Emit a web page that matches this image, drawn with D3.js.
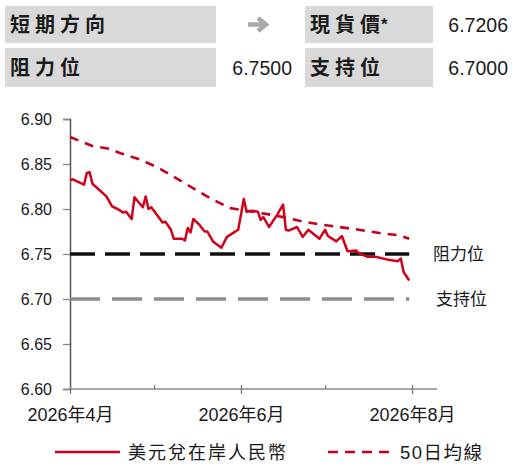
<!DOCTYPE html>
<html>
<head>
<meta charset="utf-8">
<script src="https://cdn.jsdelivr.net/npm/d3@7"></script>
<style>
  body { margin: 0; background: #fff; }
  svg { display: block; }
  text { font-family: "Liberation Sans", Arial, "Noto Sans CJK TC", sans-serif; fill: #1a1a1a; }
  .cjk { font-family: "Noto Sans CJK TC", sans-serif; }
</style>
</head>
<body>
<svg id="chart" width="516" height="472"></svg>
<script>

const width = 516;
const height = 472;

// header table
const headerLabels = ["短期方向", "現貨價", "阻力位", "支持位"];
const headerValues = ["6.7206", "6.7500", "6.7000"];

// USD/CNY daily
const spotDates = [
  "2026-04-01","2026-04-02","2026-04-06","2026-04-07","2026-04-08","2026-04-09",
  "2026-04-14","2026-04-16","2026-04-18","2026-04-20","2026-04-21","2026-04-23",
  "2026-04-24","2026-04-27","2026-04-28","2026-04-29","2026-04-30","2026-05-04",
  "2026-05-05","2026-05-07","2026-05-08","2026-05-11","2026-05-12","2026-05-13",
  "2026-05-14","2026-05-15","2026-05-17","2026-05-19","2026-05-20","2026-05-22",
  "2026-05-25","2026-05-27","2026-05-31","2026-06-02","2026-06-03","2026-06-05",
  "2026-06-07","2026-06-08","2026-06-09","2026-06-11","2026-06-14","2026-06-16",
  "2026-06-17","2026-06-18","2026-06-21","2026-06-23","2026-06-25","2026-06-29",
  "2026-07-01","2026-07-02","2026-07-05","2026-07-07","2026-07-09","2026-07-12",
  "2026-07-13","2026-07-16","2026-07-19","2026-07-23","2026-07-27","2026-07-28",
  "2026-07-29","2026-07-31"
];
const spotValues = [
  6.832, 6.833, 6.827, 6.840, 6.841, 6.828,
  6.814, 6.803, 6.800, 6.796, 6.797, 6.789,
  6.813, 6.802, 6.814, 6.800, 6.802, 6.785,
  6.786, 6.777, 6.767, 6.767, 6.765, 6.779,
  6.774, 6.789, 6.783, 6.775, 6.775, 6.764,
  6.757, 6.769, 6.777, 6.811, 6.797, 6.798,
  6.797, 6.788, 6.791, 6.780, 6.794, 6.805,
  6.777, 6.776, 6.780, 6.769, 6.777, 6.767,
  6.777, 6.770, 6.764, 6.770, 6.753, 6.754,
  6.751, 6.747, 6.747, 6.744, 6.742, 6.745,
  6.730, 6.7206
];

// 50-day moving average
const maDates = [
  "2026-04-01","2026-04-09","2026-04-15","2026-04-19","2026-04-26","2026-05-03",
  "2026-05-09","2026-05-15","2026-05-21","2026-05-28","2026-06-03","2026-06-11",
  "2026-06-16","2026-06-23","2026-06-29","2026-07-06","2026-07-13","2026-07-21",
  "2026-07-27","2026-07-31"
];
const maValues = [
  6.880, 6.870, 6.867, 6.862, 6.855, 6.845,
  6.834, 6.823, 6.812, 6.801, 6.798, 6.794,
  6.791, 6.786, 6.783, 6.780, 6.777, 6.773,
  6.771, 6.767
];

const resistance = 6.75;
const support = 6.70;
const levelNames = ["阻力位", "支持位"];

const yTicks = [6.60, 6.65, 6.70, 6.75, 6.80, 6.85, 6.90];
const majorTicks = ["2026-04-01", "2026-06-01", "2026-08-01"];
const minorTicks = ["2026-05-01", "2026-07-01"];
const legendNames = ["美元兌在岸人民幣", "50日均線"];

const parse = d3.timeParse("%Y-%m-%d");
const spot = spotDates.map((d, i) => ({ date: parse(d), value: spotValues[i] }));
const ma = maDates.map((d, i) => ({ date: parse(d), value: maValues[i] }));

const svg = d3.select("#chart");

// ---- header boxes
const boxes = [
  { x: 5, y: 6, w: 211, h: 37, label: headerLabels[0], star: false },
  { x: 305, y: 6, w: 128, h: 37, label: headerLabels[1], star: true },
  { x: 5, y: 48, w: 211, h: 39, label: headerLabels[2], star: false },
  { x: 305, y: 48, w: 128, h: 39, label: headerLabels[3], star: false }
];
svg.selectAll("rect.hbox")
   .data(boxes)
   .enter()
   .append("rect")
   .attr("class", "hbox")
   .attr("x", d => d.x)
   .attr("y", d => d.y)
   .attr("width", d => d.w)
   .attr("height", d => d.h)
   .attr("fill", "#d9d9d9")
const hl = svg.selectAll("text.hlabel")
   .data(boxes)
   .enter()
   .append("text")
   .attr("class", "hlabel cjk")
   .attr("x", d => d.x + 5)
   .attr("y", d => d.y + d.h / 2 + 7)
   .attr("font-size", 20)
   .attr("font-weight", "bold")
hl.append("tspan")
  .attr("letter-spacing", 5)
  .text(d => d.star ? d.label.slice(0, -1) : d.label)
hl.filter(d => d.star)
  .append("tspan")
  .text(d => d.label.slice(-1))
hl.filter(d => d.star)
  .append("tspan")
  .attr("dx", 1)
  .attr("dy", -2)
  .attr("font-size", 17)
  .attr("font-family", "Liberation Sans, Arial, sans-serif")
  .text("*")

// direction arrow (gray, flat)
svg.append("path")
   .attr("d", "M248,24.5 H264 M258,18 L266,24.5 L258,31")
   .attr("fill", "none")
   .attr("stroke", "#aaa")
   .attr("stroke-width", 4.5)
   .attr("stroke-linejoin", "miter")

const valPos = [[508, 32], [292, 75], [508, 75]];
valPos.forEach((p, i) => {
  svg.append("text")
     .attr("x", p[0]).attr("y", p[1])
     .attr("text-anchor", "end")
     .attr("font-size", 19.5)
     .text(headerValues[i])
})

// ---- chart
const x = d3.scaleTime()
            .domain([parse("2026-04-01"), parse("2026-08-01")])
            .range([70, 412]);
const y = d3.scaleLinear()
            .domain([6.60, 6.90])
            .range([389, 119]);

const yAxis = d3.axisLeft(y)
                .tickValues(yTicks)
                .tickFormat(d3.format(".2f"))
                .tickSize(7)
                .tickPadding(11);
const gy = svg.append("g")
   .attr("transform", "translate(70,0)")
   .call(yAxis)
gy.select(".domain").attr("stroke", "#555").attr("stroke-width", 1.5)
gy.selectAll(".tick line").attr("stroke", "#888").attr("stroke-width", 1.3)
gy.selectAll(".tick text").attr("font-size", 16).attr("font-family", "Liberation Sans, Arial, sans-serif").style("fill", "#1a1a1a")

// x axis line
svg.append("line")
   .attr("x1", 70).attr("x2", 437)
   .attr("y1", y(6.60)).attr("y2", y(6.60))
   .attr("stroke", "#888").attr("stroke-width", 1.5)

const xAxis = d3.axisBottom(x)
                .tickValues(majorTicks.map(parse))
                .tickFormat(d => d3.timeFormat("%Y")(d) + "年" + (d.getMonth() + 1) + "月")
                .tickSize(5)
                .tickPadding(14);
const gx = svg.append("g")
   .attr("transform", `translate(0,${y(6.60)})`)
   .call(xAxis)
gx.select(".domain").remove()
gx.selectAll(".tick line").attr("y1", -4).attr("stroke", "#777").attr("stroke-width", 1.3)
gx.selectAll(".tick text").attr("font-size", 18).style("fill", "#1a1a1a")

const gxm = svg.append("g")
   .attr("transform", `translate(0,${y(6.60)})`)
   .call(d3.axisBottom(x).tickValues(minorTicks.map(parse)).tickSize(-4).tickFormat(""))
gxm.select(".domain").remove()
gxm.selectAll(".tick line").attr("stroke", "#777").attr("stroke-width", 1.2)

// support / resistance
const endDate = parse("2026-07-31");
svg.append("line")
   .attr("x1", x(parse("2026-04-01"))).attr("x2", x(endDate))
   .attr("y1", y(support)).attr("y2", y(support))
   .attr("stroke", "#8c8c8c").attr("stroke-width", 3.5)
   .attr("stroke-dasharray", "30,12")
svg.append("line")
   .attr("x1", x(parse("2026-04-01"))).attr("x2", x(endDate))
   .attr("y1", y(resistance)).attr("y2", y(resistance))
   .attr("stroke", "#111").attr("stroke-width", 3.5)
   .attr("stroke-dasharray", "25,10")

svg.append("text").attr("class", "cjk")
   .attr("x", 433).attr("y", y(resistance) + 6)
   .attr("font-size", 17)
   .text(levelNames[0])
svg.append("text").attr("class", "cjk")
   .attr("x", 436).attr("y", y(support) + 6)
   .attr("font-size", 17)
   .text(levelNames[1])

const line = d3.line()
               .x(d => x(d.date))
               .y(d => y(d.value));

svg.append("path")
   .datum(ma)
   .attr("d", line)
   .attr("fill", "none")
   .attr("stroke", "#c4001c")
   .attr("stroke-width", 2.6)
   .attr("stroke-dasharray", "9,7")

svg.append("path")
   .datum(spot)
   .attr("d", line)
   .attr("fill", "none")
   .attr("stroke", "#d0021b")
   .attr("stroke-width", 2.5)
   .attr("stroke-linejoin", "round")

// legend
svg.append("line")
   .attr("x1", 55).attr("x2", 120).attr("y1", 452).attr("y2", 452)
   .attr("stroke", "#d0021b").attr("stroke-width", 2.5)
svg.append("text").attr("class", "cjk")
   .attr("x", 128).attr("y", 459)
   .attr("font-size", 18)
   .attr("letter-spacing", 2)
   .text(legendNames[0])
svg.append("line")
   .attr("x1", 328).attr("x2", 390).attr("y1", 452).attr("y2", 452)
   .attr("stroke", "#c4001c").attr("stroke-width", 2.5)
   .attr("stroke-dasharray", "10,7")
svg.append("text")
   .attr("x", 400).attr("y", 459)
   .attr("font-size", 18.5)
   .attr("letter-spacing", 1.5)
   .text(legendNames[1])

</script>
</body>
</html>
